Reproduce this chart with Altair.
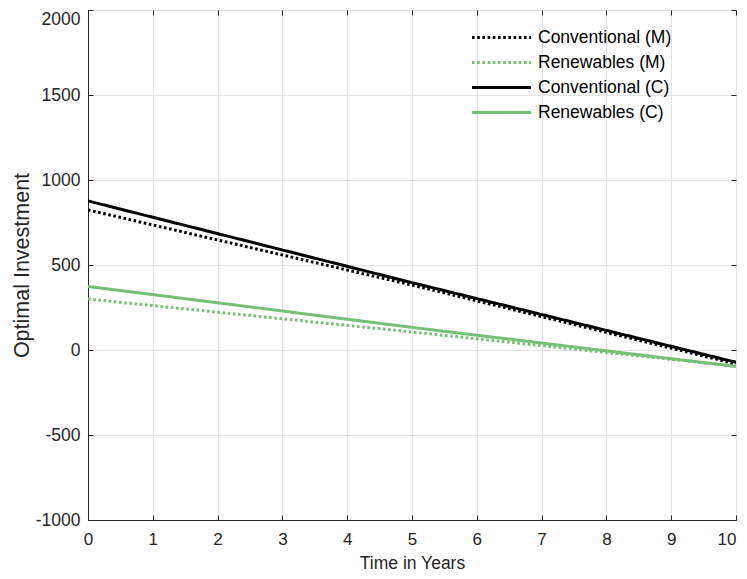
import altair as alt
import pandas as pd

years = [0, 5, 10]
conv_m = [824, 382, -82]
ren_m = [300, 106, -95]
conv_c = [877, 396, -72]
ren_c = [374, 133, -97]

series_names = ["Conventional (M)", "Renewables (M)", "Conventional (C)", "Renewables (C)"]
series_vals = [conv_m, ren_m, conv_c, ren_c]
colors = ["#000000", "#77bf77", "#000000", "#77bf77"]
dashes = [[2.6, 2.6], [2.6, 2.6], [1, 0], [1, 0]]
x_ticks = list(range(0, 11))
y_ticks = [-1000, -500, 0, 500, 1000, 1500, 2000]

rows = []
for name, vals in zip(series_names, series_vals):
    for t, v in zip(years, vals):
        rows.append({"t": t, "v": v, "series": name})
df = pd.DataFrame(rows)

font = "Liberation Sans"
xscale = alt.Scale(domain=[0, 10], nice=False)
yscale = alt.Scale(domain=[-1000, 2000], nice=False)

main = alt.Chart(df).mark_line(strokeWidth=3, clip=True).encode(
    x=alt.X("t:Q", title="Time in Years", scale=xscale,
            axis=alt.Axis(values=x_ticks, labelOverlap=False, labelExpr="'' + datum.value",
                          labelAlign={"condition": {"test": "datum.value == 10", "value": "right"},
                                      "value": "center"},
                          labelFontSize=17, titleFontSize=17.5, labelPadding=11, titlePadding=7)),
    y=alt.Y("v:Q", title="Optimal Investment", scale=yscale,
            axis=alt.Axis(values=y_ticks, labelOverlap=False, labelExpr="'' + datum.value",
                          labelBaseline={"condition": {"test": "datum.value == 2000", "value": "top"},
                                         "value": "middle"},
                          labelFontSize=17.5, titleFontSize=21.5, labelPadding=8, titlePadding=2)),
    color=alt.Color("series:N", scale=alt.Scale(domain=series_names, range=colors),
                    legend=alt.Legend(title=None, orient="none", legendX=402, legendY=16,
                                      symbolType="M-3,0L3,0", symbolSize=387, symbolStrokeWidth=3,
                                      labelFontSize=17.5, labelFont=font, labelColor="#000000",
                                      labelOffset=25, rowPadding=5, labelLimit=300)),
    strokeDash=alt.StrokeDash("series:N", scale=alt.Scale(domain=series_names, range=dashes),
                              legend=None),
    detail="series:N",
)

tick_style = dict(domain=False, labels=False, grid=False, ticks=True, tickSize=5,
                  tickColor="#262626", tickWidth=1, title=None, offset=-5)

inner1 = alt.Chart(df).mark_point(opacity=0).encode(
    x=alt.X("t:Q", scale=xscale, axis=alt.Axis(orient="bottom", values=x_ticks, **tick_style)),
    y=alt.Y("v:Q", scale=yscale, axis=alt.Axis(orient="left", values=y_ticks, **tick_style)),
)
inner2 = alt.Chart(df).mark_point(opacity=0).encode(
    x=alt.X("t:Q", scale=xscale, axis=alt.Axis(orient="top", values=x_ticks, **tick_style)),
    y=alt.Y("v:Q", scale=yscale, axis=alt.Axis(orient="right", values=y_ticks, **tick_style)),
)

chart = alt.layer(main, inner1, inner2).resolve_axis(
    x="independent", y="independent"
).properties(
    width=648, height=510,
    padding={"left": 80, "top": 2, "right": 3, "bottom": 51},
    autosize=alt.AutoSizeParams(type="none"),
).configure_axis(
    grid=True, gridColor="#e3e3e3", gridWidth=1,
    domainColor="#262626", domainWidth=1,
    ticks=False,
    labelFont=font, labelColor="#262626",
    titleFont=font, titleFontWeight="normal", titleColor="#262626",
).configure_view(
    stroke="#262626", strokeWidth=1,
)

chart.save("out.html", embed_options={"renderer": "svg", "actions": False})
